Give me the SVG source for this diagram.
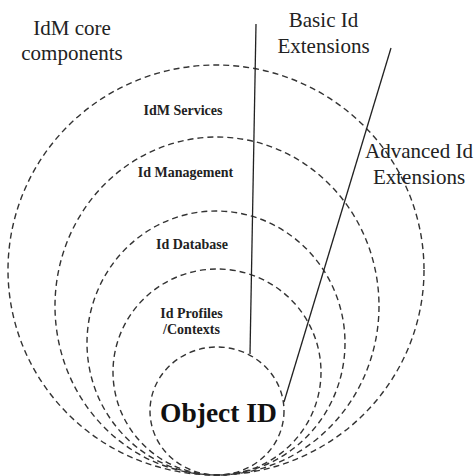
<svg xmlns="http://www.w3.org/2000/svg" width="475" height="476" viewBox="0 0 475 476">
  <style>
    .ring { fill: none; stroke: #333; stroke-width: 1.4; stroke-dasharray: 6 4; }
    .ext { stroke: #222; stroke-width: 1.3; fill: none; }
    .cap { font-family: "Liberation Serif", "Times New Roman", serif; font-size: 21px; fill: #222; text-anchor: middle; }
    .lbl { font-family: "Liberation Serif", "Times New Roman", serif; font-size: 14px; font-weight: bold; fill: #222; text-anchor: middle; }
    .core { font-family: "Liberation Serif", "Times New Roman", serif; font-size: 27.5px; font-weight: bold; fill: #111; text-anchor: middle; }
  </style>
  <rect width="475" height="476" fill="#fff"/>

  <!-- nested layers, all touching at the bottom -->
  <g id="idm-services">
    <ellipse class="ring" cx="216" cy="270" rx="208" ry="205"/>
    <text class="lbl" x="183" y="115">IdM Services</text>
  </g>
  <g id="id-management">
    <ellipse class="ring" cx="217" cy="306" rx="162" ry="169"/>
    <text class="lbl" x="185.5" y="177">Id Management</text>
  </g>
  <g id="id-database">
    <ellipse class="ring" cx="216" cy="343" rx="129" ry="132"/>
    <text class="lbl" x="192" y="249">Id Database</text>
  </g>
  <g id="id-profiles">
    <ellipse class="ring" cx="217" cy="372" rx="104" ry="103"/>
    <text class="lbl" x="191.5" y="318">Id Profiles</text>
    <text class="lbl" x="191.5" y="334">/Contexts</text>
  </g>
  <g id="object-id">
    <ellipse class="ring" cx="217" cy="411" rx="67" ry="64"/>
    <text class="core" x="218.5" y="422">Object ID</text>
  </g>

  <!-- side captions -->
  <g id="core-caption">
    <text class="cap" x="72" y="35">IdM core</text>
    <text class="cap" x="72" y="60">components</text>
  </g>
  <g id="basic-ext">
    <text class="cap" x="323.5" y="27">Basic Id</text>
    <text class="cap" x="323.5" y="53">Extensions</text>
  </g>
  <g id="advanced-ext">
    <text class="cap" x="419" y="158">Advanced Id</text>
    <text class="cap" x="419" y="184">Extensions</text>
  </g>

  <!-- extension lines -->
  <g id="connectors">
    <line class="ext" x1="256" y1="24" x2="250" y2="354"/>
    <line class="ext" x1="391" y1="48" x2="284" y2="402"/>
  </g>
</svg>
